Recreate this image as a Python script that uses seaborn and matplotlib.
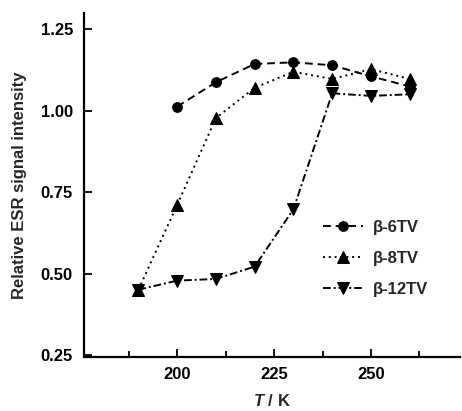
import matplotlib
matplotlib.use("Agg")
import matplotlib.pyplot as plt
import seaborn as sns
from matplotlib.ticker import MultipleLocator, FormatStrFormatter

# Temperatures (K) and relative ESR signal intensity
temp_6tv = [200, 210, 220, 230, 240, 250, 260]
esr_6tv = [1.013, 1.088, 1.144, 1.149, 1.140, 1.106, 1.075]

temp_8tv = [190, 200, 210, 220, 230, 240, 250, 260]
esr_8tv = [0.451, 0.711, 0.978, 1.071, 1.120, 1.098, 1.128, 1.098]

temp_12tv = [190, 200, 210, 220, 230, 240, 250, 260]
esr_12tv = [0.451, 0.479, 0.484, 0.522, 0.698, 1.054, 1.046, 1.051]

labels = ["β-6TV", "β-8TV", "β-12TV"]

sns.set_style("ticks")
plt.rcParams["font.family"] = ["Liberation Sans", "DejaVu Sans"]
plt.rcParams["font.weight"] = "bold"
plt.rcParams["mathtext.fontset"] = "custom"
plt.rcParams["mathtext.it"] = "Liberation Sans:italic:bold"
plt.rcParams["mathtext.rm"] = "Liberation Sans:bold"

fig = plt.figure(figsize=(4.62, 4.11), dpi=100)
ax = fig.add_axes([0.182, 0.131, 0.814, 0.837])

sns.lineplot(x=temp_6tv, y=esr_6tv, ax=ax, color="black", lw=1.4,
             linestyle=(0, (4, 2.5)), marker="o", markersize=7,
             markeredgecolor="black", label=labels[0])
sns.lineplot(x=temp_8tv, y=esr_8tv, ax=ax, color="black", lw=1.4,
             linestyle=(0, (1, 2)), marker="^", markersize=8,
             markeredgecolor="black", label=labels[1])
sns.lineplot(x=temp_12tv, y=esr_12tv, ax=ax, color="black", lw=1.4,
             linestyle=(0, (4, 1.5, 1, 1.5)), marker="v", markersize=8,
             markeredgecolor="black", label=labels[2])

ax.set_xlim(176, 273)
ax.set_ylim(0.244, 1.30)
ax.xaxis.set_major_locator(MultipleLocator(25))
ax.xaxis.set_minor_locator(MultipleLocator(12.5))
ax.yaxis.set_major_locator(MultipleLocator(0.25))
ax.yaxis.set_major_formatter(FormatStrFormatter("%.2f"))

ax.tick_params(axis="both", which="both", direction="in", width=1.3,
               labelsize=12, color="black", labelcolor="black")
ax.tick_params(axis="x", which="major", length=6, pad=7)
ax.tick_params(axis="y", which="major", length=6, pad=8)
ax.tick_params(axis="x", which="minor", length=4)
for t in ax.get_xticklabels() + ax.get_yticklabels():
    t.set_fontweight("bold")

for side in ["top", "right"]:
    ax.spines[side].set_visible(False)
for side in ["left", "bottom"]:
    ax.spines[side].set_linewidth(1.6)
    ax.spines[side].set_color("black")

ax.set_xlabel(r"$\it{T}$ / K", fontsize=12, fontweight="bold", labelpad=8)
ax.set_ylabel("Relative ESR signal intensity", fontsize=12,
              fontweight="bold", labelpad=10)

leg = ax.legend(loc="center left", bbox_to_anchor=(0.596, 0.287), frameon=False,
                handlelength=2.4, labelspacing=0.95, fontsize=12,
                handletextpad=0.6)
for t in leg.get_texts():
    t.set_fontweight("bold")

fig.savefig("out.png", dpi=100)
